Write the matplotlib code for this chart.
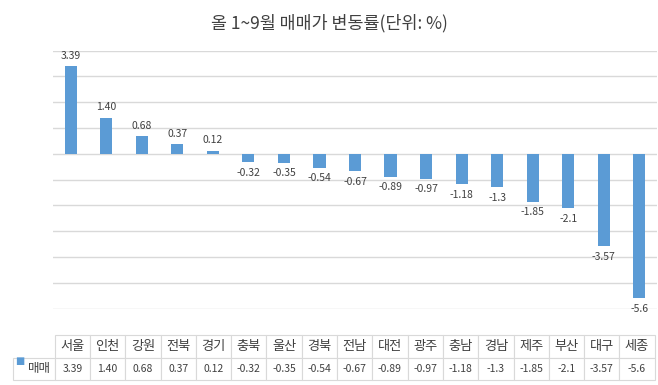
import matplotlib

matplotlib.use("Agg")

import matplotlib.pyplot as plt
import numpy as np

plt.rcParams["font.family"] = ["Noto Sans CJK KR", "DejaVu Sans"]

TITLE = "올 1~9월 매매가 변동률(단위: %)"
SERIES_NAME = "매매"
REGIONS = ["서울", "인천", "강원", "전북", "경기", "충북", "울산", "경북", "전남",
           "대전", "광주", "충남", "경남", "제주", "부산", "대구", "세종"]
CHANGE = [3.39, 1.40, 0.68, 0.37, 0.12, -0.32, -0.35, -0.54, -0.67,
          -0.89, -0.97, -1.18, -1.3, -1.85, -2.1, -3.57, -5.6]
VALUE_LABELS = ["3.39", "1.40", "0.68", "0.37", "0.12", "-0.32", "-0.35", "-0.54", "-0.67",
                "-0.89", "-0.97", "-1.18", "-1.3", "-1.85", "-2.1", "-3.57", "-5.6"]

BAR_COLOR = "#5B9BD5"
TEXT_COLOR = "#404040"
GRID_COLOR = "#d9d9d9"

W, H = 658, 385
fig = plt.figure(figsize=(W / 100, H / 100), dpi=100)

left, right, top, bottom = 53, 657, 50.7, 308.7
ax = fig.add_axes([left / W, 1 - bottom / H, (right - left) / W, (bottom - top) / H])

x = np.arange(len(REGIONS))
bars = ax.bar(x, CHANGE, width=0.34, color=BAR_COLOR, zorder=3)

for rect, value, label in zip(bars, CHANGE, VALUE_LABELS):
    cx = rect.get_x() + rect.get_width() / 2
    if value >= 0:
        ax.annotate(label, (cx, value), xytext=(0, 4), textcoords="offset points",
                    ha="center", va="bottom", fontsize=7.5, color=TEXT_COLOR)
    else:
        ax.annotate(label, (cx, value), xytext=(0, -4), textcoords="offset points",
                    ha="center", va="top", fontsize=7.5, color=TEXT_COLOR)

ax.set_xlim(-0.5, len(REGIONS) - 0.5)
ax.set_ylim(-6, 4)
ax.set_yticks(np.arange(-6, 5, 1))
ax.set_xticks([])
ax.tick_params(left=False, labelleft=False)
ax.grid(axis="y", color=GRID_COLOR, linewidth=1.0, zorder=0)
for spine in ax.spines.values():
    spine.set_visible(False)

# data table under the plot (bbox covers the data cells only)
plot_w = right - left
plot_h = bottom - top
cells_left, cells_right, tbl_top, tbl_bottom = 55, 655, 335, 380
table = ax.table(
    cellText=[VALUE_LABELS],
    colLabels=REGIONS,
    cellLoc="center",
    bbox=[(cells_left - left) / plot_w, (bottom - tbl_bottom) / plot_h,
          (cells_right - cells_left) / plot_w, (tbl_bottom - tbl_top) / plot_h],
)
col_w = table[1, 0].get_width()
row_h = table[1, 0].get_height()
col_px = (cells_right - cells_left) / len(REGIONS)
table.add_cell(1, -1, col_w * (cells_left - 13) / col_px, row_h, text=SERIES_NAME, loc="right")
table.auto_set_font_size(False)
table.set_clip_on(False)

for (r, c), cell in table.get_celld().items():
    cell.set_edgecolor(GRID_COLOR)
    cell.set_linewidth(0.8)
    txt = cell.get_text()
    txt.set_color(TEXT_COLOR)
    if r == 0:
        txt.set_fontsize(9.5)
    elif c == -1:
        txt.set_fontsize(9)
    else:
        txt.set_fontsize(7.5)

# legend key in the row label
fig.text(20 / W, 1 - 361 / H, "■", color=BAR_COLOR, fontsize=7,
         ha="center", va="center", family="DejaVu Sans")

fig.text(0.5, 1 - 23 / H, TITLE, ha="center", va="center", fontsize=12.5, color=TEXT_COLOR)

fig.savefig("out.png", dpi=100)
